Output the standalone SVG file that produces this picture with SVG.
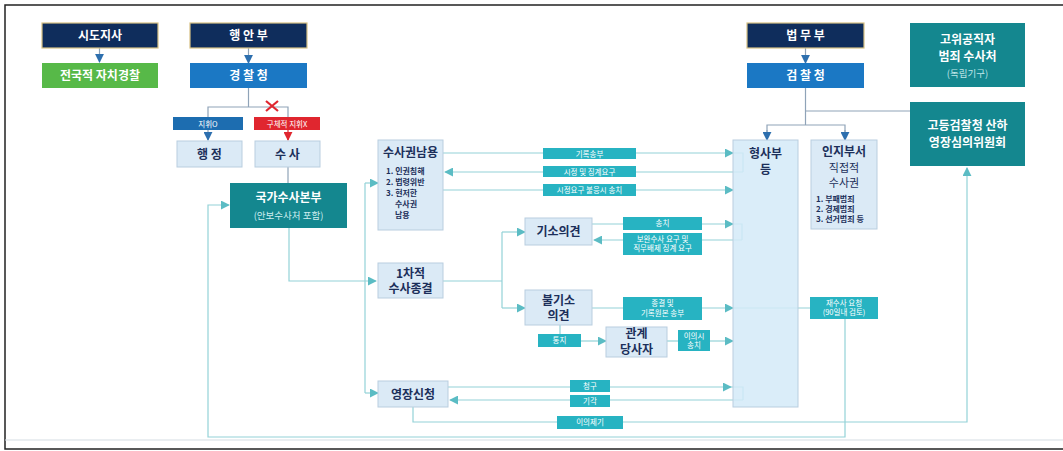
<svg xmlns="http://www.w3.org/2000/svg" width="1063" height="451" viewBox="0 0 1063 451">
<style>
text{font-family:"Noto Sans CJK KR","Noto Sans",sans-serif;text-anchor:middle}
.navy{fill:#0f2d5c;stroke:#d8c184;stroke-width:1.2}
.blue{fill:#1b78c4}
.green{fill:#57b948}
.light{fill:#dbeaf6;stroke:#b9cedf;stroke-width:1}
.teal{fill:#14878f}
.lbl{fill:#27b3c2}
.wt{fill:#fff;font-weight:700;font-size:12px}
.dt{fill:#1c2f5a;font-weight:700;font-size:12px}
.st{fill:#fff;font-size:7.5px}
.li{fill:#1c2f5a;font-weight:700;font-size:8px;text-anchor:start}
.ln{fill:none;stroke:#93d2d8;stroke-width:1.2}
.bl{fill:none;stroke:#8fa3b8;stroke-width:1.2}
</style>
<defs>
<marker id="ta" viewBox="0 0 10 10" refX="9" refY="5" markerWidth="9" markerHeight="9" markerUnits="userSpaceOnUse" orient="auto"><path d="M0,0L10,5L0,10z" fill="#5bbcc4"/></marker>
<marker id="ba" viewBox="0 0 10 10" refX="9" refY="5" markerWidth="9" markerHeight="9" markerUnits="userSpaceOnUse" orient="auto"><path d="M0,0L10,5L0,10z" fill="#2d6fae"/></marker>
<marker id="ra" viewBox="0 0 10 10" refX="9" refY="5" markerWidth="9" markerHeight="9" markerUnits="userSpaceOnUse" orient="auto"><path d="M0,0L10,5L0,10z" fill="#e0262f"/></marker>
</defs>
<rect x="0" y="0" width="1063" height="451" fill="#fff"/>
<rect x="5" y="5" width="1070" height="444" fill="none" stroke="#222" stroke-width="1.5"/>
<line x1="5" y1="440" x2="1063" y2="440" stroke="#d5dde3" stroke-width="1"/>

<g id="connectors">
<line class="bl" x1="99.5" y1="47" x2="99.5" y2="62" marker-end="url(#ba)"/>
<line class="bl" x1="248.5" y1="47" x2="248.5" y2="63" marker-end="url(#ba)"/>
<line class="bl" x1="805.5" y1="47" x2="805.5" y2="63" marker-end="url(#ba)"/>
<path class="bl" d="M248.5,88V107M208,117V107H288V117"/>
<line class="bl" x1="208" y1="130" x2="208" y2="140" marker-end="url(#ba)"/>
<line x1="288" y1="130" x2="288" y2="140" stroke="#e0262f" stroke-width="1.2" marker-end="url(#ra)"/>
<path d="M266,101L278,111M278,101L266,111" stroke="#e0262f" stroke-width="2.2"/>
<line class="bl" x1="288" y1="167" x2="288" y2="183"/>
<path class="bl" d="M805.5,87V125M767,137V125H845V137M805.5,111H910"/>
<line class="bl" x1="767" y1="130" x2="767" y2="140" marker-end="url(#ba)"/>
<line class="bl" x1="845" y1="130" x2="845" y2="140" marker-end="url(#ba)"/>

<path class="ln" d="M289,228V281H376" marker-end="url(#ta)"/>
<path class="ln" d="M365,183V393"/>
<line class="ln" x1="365" y1="183" x2="378" y2="183" marker-end="url(#ta)"/>
<line class="ln" x1="365" y1="393" x2="378" y2="393" marker-end="url(#ta)"/>

<line class="ln" x1="443" y1="153" x2="733" y2="153" marker-end="url(#ta)"/>
<line class="ln" x1="743" y1="172" x2="445" y2="172" marker-end="url(#ta)"/>
<line class="ln" x1="443" y1="190" x2="733" y2="190" marker-end="url(#ta)"/>
<path class="ln" d="M733,153H743V172"/>

<path class="ln" d="M443,281H502M502,232V308"/>
<line class="ln" x1="502" y1="232" x2="525" y2="232" marker-end="url(#ta)"/>
<line class="ln" x1="502" y1="308" x2="525" y2="308" marker-end="url(#ta)"/>
<line class="ln" x1="592" y1="224" x2="733" y2="224" marker-end="url(#ta)"/>
<path class="ln" d="M733,224H742V240"/>
<line class="ln" x1="742" y1="240" x2="594" y2="240" marker-end="url(#ta)"/>
<line class="ln" x1="592" y1="308" x2="733" y2="308" marker-end="url(#ta)"/>
<line class="ln" x1="733" y1="308" x2="810" y2="308"/>
<line class="ln" x1="560" y1="325" x2="560" y2="334"/>
<line class="ln" x1="581" y1="341" x2="606" y2="341" marker-end="url(#ta)"/>
<line class="ln" x1="667" y1="341" x2="678" y2="341"/>
<line class="ln" x1="710" y1="341" x2="733" y2="341" marker-end="url(#ta)"/>

<line class="ln" x1="448" y1="387" x2="731" y2="387" marker-end="url(#ta)"/>
<path class="ln" d="M731,387H743V400"/>
<line class="ln" x1="743" y1="400" x2="450" y2="400" marker-end="url(#ta)"/>
<path class="ln" d="M413,407V422H967V168" marker-end="url(#ta)"/>
<path class="ln" d="M845,319V437H208V205H229" marker-end="url(#ta)"/>
</g>

<g id="n-sido"><rect class="navy" x="42" y="23" width="116" height="25"/><text class="wt" x="100" y="40">시도지사</text></g>
<g id="n-jachi"><rect class="green" x="42" y="63" width="116" height="25"/><text class="wt" x="100" y="80">전국적 자치경찰</text></g>
<g id="n-haengan"><rect class="navy" x="190" y="23" width="117" height="25"/><text class="wt" x="248.5" y="40">행 안 부</text></g>
<g id="n-police"><rect class="blue" x="190" y="63" width="117" height="25"/><text class="wt" x="248.5" y="80">경 찰 청</text></g>
<g id="l-jihwi"><rect x="173" y="117" width="70" height="13" fill="#1d6db0"/><text class="st" x="208" y="126.5">지휘O</text></g>
<g id="l-nojihwi"><rect x="254" y="117" width="66" height="13" fill="#e0262f"/><text class="st" x="287" y="126.5">구체적 지휘X</text></g>
<g id="n-haengjeong"><rect class="light" x="177" y="141" width="65" height="26"/><text class="dt" x="209.5" y="158.5">행 정</text></g>
<g id="n-susa"><rect class="light" x="255" y="141" width="65" height="26"/><text class="dt" x="287.5" y="158.5">수 사</text></g>
<g id="n-nbi"><rect class="teal" x="230" y="183" width="117" height="45"/><text class="wt" x="288.5" y="202">국가수사본부</text><text x="288.5" y="219" fill="#cfeef0" font-size="9.5px">(안보수사처 포함)</text></g>

<g id="n-abuse"><rect class="light" x="378" y="140" width="65" height="90"/><text class="dt" x="410.5" y="157" font-size="11px">수사권남용</text>
<text class="li" x="386" y="174">1. 인권침해</text><text class="li" x="386" y="185">2. 법령위반</text><text class="li" x="386" y="196">3. 현저한</text><text class="li" x="395" y="207">수사권</text><text class="li" x="395" y="218">남용</text></g>
<g id="n-first"><rect class="light" x="378" y="263" width="65" height="35"/><text class="dt" x="410.5" y="278">1차적</text><text class="dt" x="410.5" y="293">수사종결</text></g>
<g id="n-warrant"><rect class="light" x="378" y="381" width="70" height="26"/><text class="dt" x="413" y="398.5">영장신청</text></g>

<g id="l-rec"><rect class="lbl" x="543" y="148" width="93" height="11"/><text class="st" x="589.5" y="156.5">기록송부</text></g>
<g id="l-fix"><rect class="lbl" x="543" y="166" width="93" height="11"/><text class="st" x="589.5" y="174.5">시정 및 징계요구</text></g>
<g id="l-send"><rect class="lbl" x="543" y="184" width="93" height="12"/><text class="st" x="589.5" y="193">시정요구 불응시 송치</text></g>

<g id="n-indict"><rect class="light" x="525" y="218" width="67" height="27"/><text class="dt" x="558.5" y="236">기소의견</text></g>
<g id="l-songchi"><rect class="lbl" x="623" y="217" width="79" height="13"/><text class="st" x="662.5" y="226">송치</text></g>
<g id="l-bowan"><rect class="lbl" x="623" y="233" width="79" height="22"/><text class="st" x="662.5" y="242">보완수사 요구 및</text><text class="st" x="662.5" y="251">직무배제 징계 요구</text></g>
<g id="n-noindict"><rect class="light" x="525" y="290" width="67" height="35"/><text class="dt" x="558.5" y="305">불기소</text><text class="dt" x="558.5" y="320">의견</text></g>
<g id="l-close"><rect class="lbl" x="623" y="297" width="79" height="23"/><text class="st" x="662.5" y="306">종결 및</text><text class="st" x="662.5" y="316">기록원본 송부</text></g>
<g id="l-notice"><rect class="lbl" x="538" y="334" width="43" height="13"/><text class="st" x="559.5" y="343">통지</text></g>
<g id="n-party"><rect class="light" x="606" y="327" width="61" height="30"/><text class="dt" x="636.5" y="337.5" font-size="9.5px">관계</text><text class="dt" x="636.5" y="353.5" font-size="9.5px">당사자</text></g>
<g id="l-objection"><rect class="lbl" x="678" y="330" width="32" height="21"/><text class="st" x="694" y="339">이의시</text><text class="st" x="694" y="348">송치</text></g>

<g id="l-request"><rect class="lbl" x="570" y="380" width="40" height="12"/><text class="st" x="590" y="389">청구</text></g>
<g id="l-reject"><rect class="lbl" x="570" y="395" width="40" height="12"/><text class="st" x="590" y="404">기각</text></g>
<g id="l-appeal"><rect class="lbl" x="557" y="416" width="66" height="13"/><text class="st" x="590" y="425">이의제기</text></g>

<g id="n-moj"><rect class="navy" x="747" y="23" width="117" height="25"/><text class="wt" x="805.5" y="40">법 무 부</text></g>
<g id="n-prosecution"><rect class="blue" x="747" y="63" width="117" height="25"/><text class="wt" x="805.5" y="80">검 찰 청</text></g>
<g id="n-criminal"><rect x="733" y="140" width="65" height="267" fill="#d4eaf8" fill-opacity="0.85" stroke="#b9cedf"/><text class="dt" x="765.5" y="158">형사부</text><text class="dt" x="765.5" y="174">등</text></g>
<g id="n-direct"><rect class="light" x="811" y="140" width="66" height="89"/><text class="dt" x="844" y="156">인지부서</text>
<text x="844" y="172" fill="#1c2f5a" font-size="11px">직접적</text><text x="844" y="187" fill="#1c2f5a" font-size="11px">수사권</text>
<text class="li" x="816" y="202" font-size="7.5px">1. 부패범죄</text><text class="li" x="816" y="212" font-size="7.5px">2. 경제범죄</text><text class="li" x="816" y="222" font-size="7.5px">3. 선거범죄 등</text></g>
<g id="l-reinvest"><rect class="lbl" x="810" y="297" width="68" height="22"/><text class="st" x="844" y="306">재수사 요청</text><text class="st" x="844" y="315">(90일내 검토)</text></g>

<g id="n-cio"><rect class="teal" x="910" y="23" width="115" height="64"/><text class="wt" x="967.5" y="44">고위공직자</text><text class="wt" x="967.5" y="61">범죄 수사처</text><text x="967.5" y="77" fill="#bfe6e9" font-size="9.5px">(독립기구)</text></g>
<g id="n-council"><rect class="teal" x="910" y="102" width="115" height="64"/><text class="wt" x="967.5" y="130">고등검찰청 산하</text><text class="wt" x="967.5" y="147">영장심의위원회</text></g>
</svg>
